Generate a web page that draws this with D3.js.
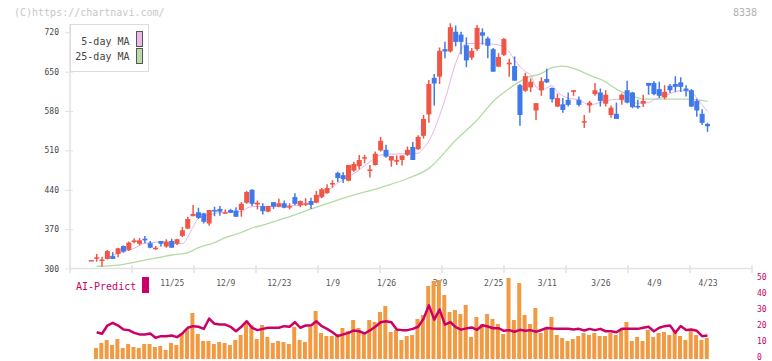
<!DOCTYPE html>
<html>
<head>
<meta charset="utf-8">
<script src="https://cdn.jsdelivr.net/npm/d3@7"></script>
<style>
  body { margin: 0; background: #fff; }
  text { font-family: "DejaVu Sans Mono", monospace; }
</style>
</head>
<body>
<svg id="chart" width="772" height="361"></svg>
<script>
// trading days shown on the chart (2025/10/31 - 2026/4/23)
var dates = ["10/31",
  "11/4","11/5","11/6","11/7","11/10","11/11","11/12","11/13","11/14","11/17","11/18","11/19","11/20","11/21","11/25","11/26","11/27","11/28",
  "12/1","12/2","12/3","12/4","12/5","12/8","12/9","12/10","12/11","12/12","12/15","12/16","12/17","12/18","12/19","12/22","12/23","12/24","12/25","12/26","12/29","12/30",
  "1/5","1/6","1/7","1/8","1/9","1/13","1/14","1/15","1/16","1/19","1/20","1/21","1/22","1/23","1/26","1/27","1/28","1/29","1/30",
  "2/2","2/3","2/4","2/5","2/6","2/9","2/10","2/12","2/13","2/16","2/17","2/18","2/19","2/20","2/24","2/25","2/26","2/27",
  "3/2","3/3","3/4","3/5","3/6","3/9","3/10","3/11","3/12","3/13","3/16","3/17","3/18","3/19","3/23","3/24","3/25","3/26","3/27","3/30","3/31",
  "4/1","4/2","4/3","4/6","4/7","4/8","4/9","4/10","4/13","4/14","4/15","4/16","4/17","4/20","4/21","4/22","4/23"];

// dates that get a label under the chart
var labelDates = ["11/25","12/9","12/23","1/9","1/26","2/9","2/25","3/11","3/26","4/9","4/23"];

// price ticks on the left, AI-Predict ticks on the right
var priceTicks = [300, 370, 440, 510, 580, 650, 720];
var aiTicks = [0, 10, 20, 30, 40, 50];

// daily prices (yen)
var opens = [314,318,314,317,322,326,340,333,347,344, 353,345,335,349,339,349,344,358,371,393,
  400,398,380,404,406,399,404,403,404,417, 440,414,411,401,418,410,416,409,427,412,
  414,420,417,427,434,450,470,466,456,474, 482,496,474,484,510,511,492,490,493,502,
  516,512,536,574,639,641,690,686,721,716, 697,675,690,720,709,690,659,680,663,660,
  626,616,622,581,617,637,621,588,592,600, 614,600,560,590,610,613,593,573,575,600,
  617,613,589,593,630,630,619,604,625,628, 631,620,617,598,575,557];
var highs = [315,326,321,333,329,337,341,348,354,354, 358,349,340,349,352,353,353,374,392,413,
  408,399,404,410,411,405,406,409,418,438, 441,421,416,411,418,424,421,416,434,421,
  425,426,438,443,450,457,472,471,484,490, 502,502,484,508,534,520,500,501,501,517,
  525,537,573,635,646,693,703,736,732,721, 711,692,733,727,712,692,683,710,673,677,
  628,648,638,594,640,655,622,611,603,613, 617,606,573,598,630,620,617,590,595,611,
  634,614,600,609,630,633,632,626,628,642, 640,626,619,602,583,559];
var lows = [314,312,303,316,317,320,328,331,345,341, 345,336,333,339,337,337,342,356,370,393,
  388,380,376,393,394,398,399,392,392,415, 411,405,396,400,406,409,407,405,413,409,
  411,406,416,425,433,444,454,452,455,472, 476,487,462,483,508,497,481,484,483,500,
  493,511,531,559,590,628,674,684,695,681, 658,671,687,698,674,650,658,678,641,634,
  554,614,614,564,607,630,595,587,577,588, 607,588,550,577,607,588,588,568,566,591,
  594,585,584,587,609,608,603,601,612,614, 614,606,587,570,555,543];
var closes = [315,320,316,331,317,336,330,346,350,350, 350,337,337,344,348,337,352,368,388,397,
  390,383,404,402,401,400,399,392,415,436, 415,417,402,411,410,416,408,411,415,420,
  416,413,431,441,443,452,461,459,484,486, 493,498,476,504,527,499,500,493,501,511,
  493,534,566,628,629,687,686,729,703,703, 670,687,728,714,696,650,676,708,666,634,
  573,642,632,594,633,631,601,603,582,591, 617,591,562,595,617,598,609,586,566,609,
  595,587,588,598,625,610,607,614,617,623, 623,616,588,581,559,553];

// moving averages: [day index, value]
var ma5 = [[3,319],[5,327],[8,336],[10,345],[13,347],[15,345],[17,344],[18,356],[19,374],[20,389],
  [21,393],[23,398],[25,400],[28,401],[29,407],[30,410],[36,411],[41,416],[44,437],[46,452],
  [48,463],[50,475],[52,490],[54,502],[58,504],[61,505],[62,514],[63,527],[66,600],[68,665],
  [69,688],[70,700],[72,700],[75,699],[77,694],[78,685],[79,671],[81,650],[82,644],[83,623],
  [84,617],[86,625],[87,614],[89,603],[91,600],[93,591],[95,595],[98,601],[100,598],[102,594],
  [104,595],[105,600],[107,607],[109,614],[110,616],[112,614],[113,603],[114,591],[115,579]];
var ma25 = [[1,304],[5,306],[8,311],[10,315],[13,320],[15,324],[18,328],[20,337],[23,346],[25,355],
  [28,364],[30,372],[32,377],[36,389],[42,409],[48,428],[54,444],[59,460],[63,478],[68,528],
  [72,564],[75,597],[78,620],[81,638],[84,647],[86,657],[88,660],[90,656],[92,648],[94,640],
  [96,632],[97,625],[99,614],[101,607],[103,601],[105,601],[109,601],[111,601],[113,600],[115,597]];

// volume (no scale shown) and AI-Predict values, first day has none
var volume = [null,11,16,19,14,20,11,15,12,11, 15,15,12,13,9,16,14,26,30,46,
  25,18,18,15,17,16,14,19,24,36, 34,20,34,22,16,18,17,15,32,19,
  17,32,48,26,23,23,25,31,28,39, 31,26,39,37,47,53,27,29,19,23,
  24,40,44,73,78,79,64,47,49,45, 54,22,42,35,45,40,35,25,81,39,
  76,44,35,51,26,30,42,24,21,18, 20,23,26,24,26,23,23,26,24,29,
  37,18,22,18,29,22,26,27,24,29, 23,19,29,24,19,21];
var aiPredict = [null,15.6,14.6,19.8,21.5,19.8,17.3,16.9,15.2,14.2,
  14.2,14.8,12.1,13.1,13.1,13.5,12.5,14.8,18.4,19.4,
  19,17.7,24.2,20.9,20.4,20.4,19,16.2,19,22.5,
  18.4,16.9,17.7,18.4,18.4,18.4,19.4,19,21.9,18.4,
  19.8,19.8,22.5,19.4,17.7,15.6,13.1,14.2,15.2,16.7,
  16.2,14.8,16.7,19,21.9,22.5,21.9,17.3,16.9,16.9,
  17.7,19,24,32.5,23.5,29.8,20.4,22,18.8,17.2,
  18,18.6,17.1,20,19.2,18.1,18.1,16.5,16.9,15.9,
  17.1,16.5,16.9,15.9,17,18.3,17.9,17.8,17.7,17.7,
  17.3,17.7,16.7,17.7,16.9,17.7,16.2,16.2,15.6,17.7,
  17.7,17.7,17.7,18.4,19,16.2,18.4,19.4,19.8,15.2,
  19.5,17,17.3,16.5,13.1,13.5];

var upColor = "#f05646", downColor = "#4079ec";
var aiColor = "#cc0066", volColor = "#f29a42";
var axisColor = "#e2e2e2";

var svg = d3.select("#chart");

// scales
var x = d3.scalePoint().domain(d3.range(dates.length)).range([91.3, 707.5]);
var y = d3.scaleLinear().domain([300, 720]).range([268.5, 32.3]);
var yVol = d3.scaleLinear().domain([0, 80]).range([359, 279]);
var yAi = d3.scaleLinear().domain([0, 50]).range([357, 277.5]);

// header texts
svg.append("text").attr("x", 14).attr("y", 16).attr("font-size", 10).attr("fill", "#c8c8c8")
  .text("(C)https://chartnavi.com/");
svg.append("text").attr("x", 757).attr("y", 16).attr("font-size", 10).attr("fill", "#b0b0b0")
  .attr("text-anchor", "end").text("8338");

// left price axis
var yAxis = svg.append("g").attr("transform", "translate(73,0)")
  .call(d3.axisLeft(y).tickValues(priceTicks).tickSize(8).tickPadding(6));
yAxis.select(".domain").remove();
yAxis.selectAll("line").attr("stroke", axisColor);
yAxis.selectAll("text").attr("font-size", 8).attr("font-family", "DejaVu Sans Mono").attr("fill", "#444");
svg.append("line").attr("x1", 70).attr("x2", 70).attr("y1", 24).attr("y2", 268.5)
  .attr("stroke", axisColor).attr("stroke-width", 1.5);

// bottom axis line with its small ticks
svg.append("line").attr("x1", 70).attr("x2", 752).attr("y1", 268.5).attr("y2", 268.5)
  .attr("stroke", axisColor).attr("stroke-width", 1.5);
svg.selectAll(".gridTick").data(d3.range(70, 753, 62)).enter().append("line")
  .attr("class", "gridTick").attr("x1", d => d).attr("x2", d => d)
  .attr("y1", 265).attr("y2", 273).attr("stroke", axisColor).attr("stroke-width", 1.5);

// date labels
var xAxis = svg.append("g").attr("transform", "translate(0,268)")
  .call(d3.axisBottom(x).tickValues(labelDates.map(d => dates.indexOf(d)))
    .tickFormat(i => dates[i]).tickSize(0).tickPadding(12));
xAxis.select(".domain").remove();
xAxis.selectAll("text").attr("font-size", 8).attr("font-family", "DejaVu Sans Mono").attr("fill", "#555");

// right AI-Predict axis
var aiAxis = svg.append("g").attr("transform", "translate(757,0)")
  .call(d3.axisRight(yAi).tickValues(aiTicks).tickSize(0).tickPadding(0));
aiAxis.select(".domain").remove();
aiAxis.selectAll("text").attr("font-size", 8).attr("font-family", "DejaVu Sans Mono")
  .attr("dy", "0.3em").attr("fill", aiColor);

// volume bars
svg.selectAll(".vol").data(d3.range(dates.length).filter(i => volume[i] != null)).enter().append("rect")
  .attr("class", "vol")
  .attr("x", i => x(i) - 2.7).attr("width", 4)
  .attr("y", i => yVol(volume[i])).attr("height", i => yVol(0) - yVol(volume[i]))
  .attr("fill", volColor);

// AI-Predict line
var aiLine = d3.line().defined(d => d != null).x((d, i) => x(i)).y(d => yAi(d));
svg.append("path").datum(aiPredict).attr("d", aiLine)
  .attr("fill", "none").attr("stroke", aiColor).attr("stroke-width", 2.5).attr("stroke-linejoin", "round");

// moving averages
var maLine = d3.line().x(d => x(d[0])).y(d => y(d[1])).curve(d3.curveMonotoneX);
svg.append("path").datum(ma25).attr("d", maLine)
  .attr("fill", "none").attr("stroke", "#b4dba4").attr("stroke-width", 1.3);
svg.append("path").datum(ma5).attr("d", maLine)
  .attr("fill", "none").attr("stroke", "#e8b2ea").attr("stroke-width", 1);

// candles
var candles = d3.range(dates.length);
var color = i => closes[i] >= opens[i] ? upColor : downColor;
svg.selectAll(".wick").data(candles).enter().append("line")
  .attr("class", "wick")
  .attr("x1", i => x(i)).attr("x2", i => x(i))
  .attr("y1", i => y(highs[i])).attr("y2", i => y(lows[i]))
  .attr("stroke", color).attr("stroke-width", 1.5);
svg.selectAll(".body").data(candles).enter().append("rect")
  .attr("class", "body")
  .attr("x", i => x(i) - 2.5).attr("width", 5)
  .attr("y", i => y(Math.max(opens[i], closes[i])))
  .attr("height", i => Math.max(1.5, Math.abs(y(opens[i]) - y(closes[i]))))
  .attr("fill", color);

// legend for the moving averages
var legend = svg.append("g");
legend.append("rect").attr("x", 70.5).attr("y", 24.5).attr("width", 78).attr("height", 47)
  .attr("fill", "#fff").attr("stroke", "#dcdcdc");
var legendItems = [{label: "5-day MA", fill: "#ebb8ec"}, {label: "25-day MA", fill: "#b8dca8"}];
legendItems.forEach(function(d, i) {
  legend.append("text").attr("x", 129.5).attr("y", 44.5 + i * 15.5)
    .attr("text-anchor", "end").attr("font-size", 10).attr("fill", "#444").text(d.label);
  legend.append("rect").attr("x", 136.5).attr("y", 31.5 + i * 17).attr("width", 6).attr("height", 15)
    .attr("fill", d.fill).attr("stroke", "#555");
});

// AI-Predict label
svg.append("text").attr("x", 76).attr("y", 290).attr("font-size", 10).attr("fill", aiColor).text("AI-Predict");
svg.append("rect").attr("x", 142).attr("y", 277).attr("width", 7).attr("height", 16).attr("fill", aiColor);
</script>
</body>
</html>
